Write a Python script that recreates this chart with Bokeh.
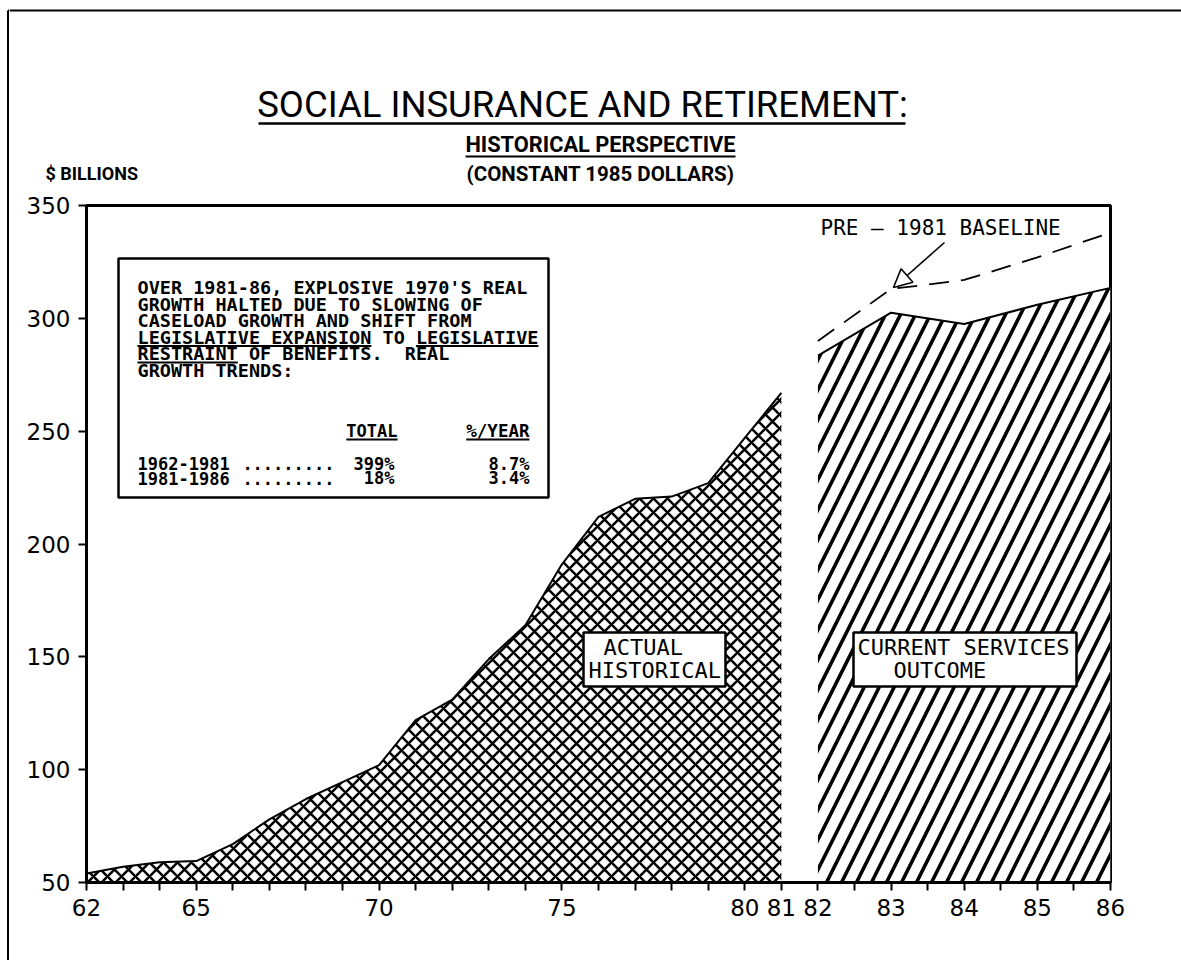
from bokeh.plotting import figure
from bokeh.layouts import row, column
from bokeh.models import (FixedTicker, Label, BoxAnnotation, Arrow, NormalHead, Range1d)
from bokeh.embed import file_html
from bokeh.resources import INLINE

# ---------------- data ----------------
hist_years = [62, 63, 64, 65, 66, 67, 68, 69, 70, 71, 72, 73, 74, 75, 76, 77, 78, 79, 80, 81]
hist_values = [54, 57, 59, 59.5, 67, 78, 87, 94.5, 102, 122, 131, 149, 164, 191, 212, 220, 221, 227, 247, 267]

cs_years = [82, 83, 84, 85, 86]
cs_values = [283.5, 302.5, 297.5, 306, 313.5]

base_years = [82, 83, 84, 85, 86]
base_values = [290, 313, 317, 327, 338]

tick_label_years = [62, 65, 70, 75, 80, 81, 82, 83, 84, 85, 86]
y_ticks = [50, 100, 150, 200, 250, 300, 350]

title = "SOCIAL INSURANCE AND RETIREMENT:"
subtitle = "HISTORICAL PERSPECTIVE"
subtitle2 = "(CONSTANT 1985 DOLLARS)"
y_title = "$ BILLIONS"
note_lines = [
    "OVER 1981-86, EXPLOSIVE 1970'S REAL",
    "GROWTH HALTED DUE TO SLOWING OF",
    "CASELOAD GROWTH AND SHIFT FROM",
    "LEGISLATIVE EXPANSION TO LEGISLATIVE",
    "RESTRAINT OF BENEFITS.\u00a0 REAL",
    "GROWTH TRENDS:",
]
rows = [("1962-1981", "399%", "8.7%"), ("1981-1986", "18%", "3.4%")]


# broken time axis: one unit per year up to 81, two units per year after
def pos(year):
    return year - 62 if year <= 81 else 20 + 2 * (year - 82)


hx = [pos(y) for y in hist_years]
cx = [pos(y) for y in cs_years]
bx = [pos(y) for y in base_years]

W, H = 1181, 960
STRIP = 9
TOP_H = 190

# ---------------- left page-border strip ----------------
sf = figure(width=STRIP, height=H, output_backend="svg", toolbar_location=None,
            x_range=Range1d(0, STRIP), y_range=Range1d(H, 0),
            x_axis_type=None, y_axis_type=None, min_border=0)
sf.frame_align = False
sf.outline_line_color = None
sf.grid.visible = False
sf.segment(x0=[7.5, 7.5], y0=[10, 10], x1=[7.5, STRIP], y1=[H, 10],
           line_color="black", line_width=2)

# ---------------- title strip (coordinates = page pixels) ----------------
tf = figure(width=W - STRIP, height=TOP_H, output_backend="svg", toolbar_location=None,
            x_range=Range1d(STRIP, W), y_range=Range1d(TOP_H, 0),
            x_axis_type=None, y_axis_type=None, min_border=0)
tf.frame_align = False
tf.outline_line_color = None
tf.grid.visible = False
tf.segment(x0=[STRIP], y0=[10], x1=[W], y1=[10], line_color="black", line_width=2)


def tlab(text, x, y, size, font="Roboto", style="normal", align="center"):
    tf.add_layout(Label(x=x, y=y, text=text, text_font=font,
                        text_font_size=f"{size}px", text_font_style=style,
                        text_align=align, text_baseline="middle", text_color="black"))


tlab(title, 582, 104, 36.5)
tf.segment(x0=[258], y0=[123], x1=[905], y1=[123], line_color="black", line_width=2.5)
tlab(subtitle, 600, 144, 21.8, style="bold")
tf.segment(x0=[465], y0=[156], x1=[735], y1=[156], line_color="black", line_width=2)
tlab(subtitle2, 600, 173, 20.5, style="bold")
tlab(y_title, 45, 173, 18, style="bold", align="left")

# ---------------- main chart ----------------
FL, FR, FT, FB = 86, 1110, 205, 882
XMAX = 28


def dx(px):
    return (px - FL) * XMAX / (FR - FL)


def dy(py):
    return 50 + (FB - py) * 300 / (FB - FT)


p = figure(width=W - STRIP, height=H - TOP_H, output_backend="svg", toolbar_location=None,
           x_range=Range1d(0, XMAX), y_range=Range1d(50, 350),
           min_border_left=FL - STRIP, min_border_right=W - FR,
           min_border_top=FT - TOP_H, min_border_bottom=H - FB)
p.frame_align = False
p.background_fill_color = "white"
p.border_fill_color = "white"
p.outline_line_color = "black"
p.outline_line_width = 3
p.grid.visible = False

for ax in (p.xaxis[0], p.yaxis[0]):
    ax.axis_line_width = 3
    ax.axis_line_color = "black"
    ax.major_tick_line_width = 2
    ax.major_tick_line_color = "black"
    ax.major_tick_out = 8
    ax.major_tick_in = 0
    ax.minor_tick_line_color = None
    ax.major_label_text_font = "DejaVu Sans"
    ax.major_label_text_font_size = "23px"
    ax.major_label_text_color = "black"

p.xaxis.ticker = FixedTicker(ticks=list(range(XMAX + 1)))
lab_pos = {pos(y): str(y) for y in tick_label_years}
p.xaxis.major_label_overrides = {i: lab_pos.get(i, "") for i in range(XMAX + 1)}
p.xaxis.major_label_standoff = 8
p.yaxis.ticker = FixedTicker(ticks=y_ticks)
p.yaxis.major_label_standoff = 8

# historical area
p.varea(x=hx, y1=[50] * len(hx), y2=hist_values, fill_color="white",
        hatch_pattern="x", hatch_color="black", hatch_scale=14, hatch_weight=2.5)
p.line(hx, hist_values, line_color="black", line_width=2)

# current services area
p.varea(x=cx, y1=[50] * len(cx), y2=cs_values, fill_color="white",
        hatch_pattern="/", hatch_color="black", hatch_scale=30, hatch_weight=3.6)
p.line(cx, cs_values, line_color="black", line_width=2)

# pre-1981 baseline
p.line(bx, base_values, line_color="black", line_width=1.8, line_dash="20 12")


def lab(text, x, y, size, font="DejaVu Sans Mono", style="normal", align="left"):
    p.add_layout(Label(x=dx(x), y=dy(y), text=text, text_font=font,
                       text_font_size=f"{size}px", text_font_style=style,
                       text_align=align, text_baseline="middle",
                       text_color="black"))


def seg(x0, y0, x1, y1, w=2):
    p.add_layout(Arrow(x_start=dx(x0), y_start=dy(y0), x_end=dx(x1), y_end=dy(y1),
                       end=None, start=None, line_color="black", line_width=w))


def box(l, r, t, b):
    p.add_layout(BoxAnnotation(left=dx(l), right=dx(r), top=dy(t), bottom=dy(b),
                               fill_color="white", fill_alpha=1, line_color="black",
                               line_alpha=1, line_width=2.5, level="annotation"))


# note box
box(118, 548, 258, 497)
NX, NFS = 137, 18.5
CW = 0.602 * NFS
for i, t in enumerate(note_lines):
    lab(t, NX, 287 + i * 16.5, NFS, style="bold")
seg(NX, 345.5, NX + CW * len("LEGISLATIVE EXPANSION"), 345.5, 1.8)
seg(NX + CW * len("LEGISLATIVE EXPANSION TO "), 345.5,
    NX + CW * len("LEGISLATIVE EXPANSION TO LEGISLATIVE"), 345.5, 1.8)
seg(NX, 362, NX + CW * len("RESTRAINT"), 362, 1.8)

lab("TOTAL", 397, 430, 17, style="bold", align="right")
seg(397 - 5 * 0.602 * 17, 439, 397, 439, 1.8)
lab("%/YEAR", 529, 430, 17.5, style="bold", align="right")
seg(529 - 6 * 0.602 * 17.5, 439, 529, 439, 1.8)
for i, (per, tot, rate) in enumerate(rows):
    yc = 463 + i * 14.5
    lab(per, NX, yc, 17, style="bold")
    lab(".........", 334, yc, 17, style="bold", align="right")
    lab(tot, 394, yc, 17, style="bold", align="right")
    lab(rate, 529, yc, 17, style="bold", align="right")

# area labels
box(583, 725, 632, 686)
lab("ACTUAL", 603, 647, 22)
lab("HISTORICAL", 588, 670, 22)

box(853, 1076, 632, 686)
lab("CURRENT SERVICES", 857, 647, 22)
lab("OUTCOME", 893, 670, 22)

# baseline pointer
lab("PRE \u2013 1981 BASELINE", 820, 227, 21)
p.add_layout(Arrow(x_start=dx(944), y_start=dy(242), x_end=dx(893), y_end=dy(287),
                   line_color="black", line_width=1.6,
                   end=NormalHead(size=18, fill_color="white", line_color="black",
                                  line_width=1.6)))

layout = row(sf, column(tf, p, spacing=0), spacing=0)
open("out.html", "w").write(file_html(layout, INLINE))
